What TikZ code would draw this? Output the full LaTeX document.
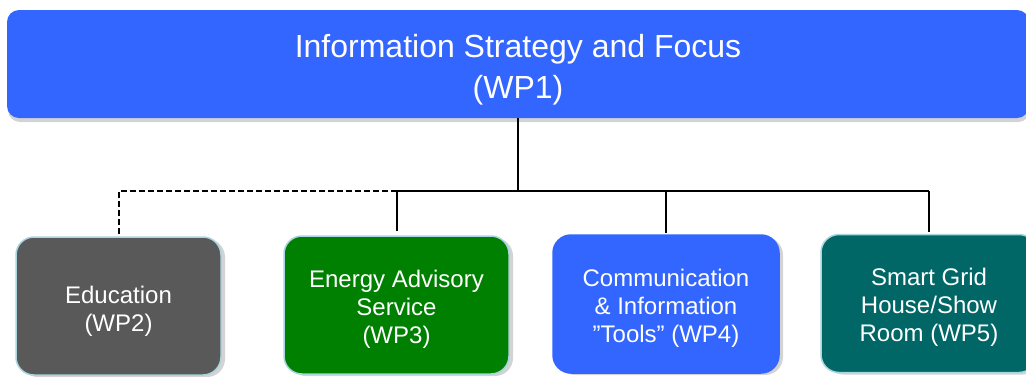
\documentclass[tikz,border=0pt]{standalone}
\usepackage{fontspec}
\setmainfont{Liberation Sans}
\usepackage{xcolor}
\usepackage{tikz}
\usetikzlibrary{shadows}
\definecolor{wpblue}{RGB}{51,102,255}
\definecolor{wpgray}{RGB}{89,89,89}
\definecolor{wpgreen}{RGB}{0,128,0}
\definecolor{wpteal}{RGB}{0,102,102}
\definecolor{wpedge}{RGB}{170,212,222}
\newcommand{\wptext}[2]{\raisebox{#1}[\height][\depth]{\begin{tabular}{@{}c@{}}#2\end{tabular}}}
\tikzstyle{topbox} = [rectangle, rounded corners=12pt, minimum width=1022pt, minimum height=108pt, text centered, fill=wpblue, text=white, font=\fontsize{32}{41}\selectfont, drop shadow={shadow xshift=1pt, shadow yshift=-4pt, opacity=0.35}]
\tikzstyle{wpbox} = [rectangle, rounded corners=18pt, minimum width=205pt, minimum height=138pt, text centered, draw=wpedge, line width=1.5pt, text=white, font=\fontsize{24}{28}\selectfont, drop shadow={shadow xshift=4pt, shadow yshift=-2pt, opacity=0.35}]
\tikzstyle{link} = [line width=2pt]
\tikzstyle{dashlink} = [line width=2pt, dash pattern=on 6pt off 3pt]

\begin{document}
\begin{tikzpicture}[x=1pt, y=-1pt]
			\useasboundingbox (0,0) rectangle (1026,376);
			\node (wp1) [topbox] at (518,64) {\wptext{-5.5pt}{Information Strategy and Focus\\(WP1)}};
			\node (wp2) [wpbox, fill=wpgray] at (118.5,306) {\wptext{-5.5pt}{Education\\(WP2)}};
			\node (wp3) [wpbox, fill=wpgreen, minimum width=225pt] at (396.5,305) {\wptext{-4.5pt}{Energy Advisory\\Service\\(WP3)}};
			\node (wp4) [wpbox, fill=wpblue, draw=wpblue, minimum width=226pt] at (666,304) {\wptext{-5pt}{Communication\\\& Information\\”Tools” (WP4)}};
			\node (wp5) [wpbox, fill=wpteal, minimum width=216pt] at (929,303.5) {\wptext{-4.5pt}{Smart Grid\\House/Show\\Room (WP5)}};
			\coordinate (bus) at (wp1.south |- 0,191);

			\draw [link] (wp1.south) -- (bus);
			\draw [link] (wp3.north |- bus) -- (wp5.north |- bus);
			\draw [link, shorten >=4pt] (wp3.north |- bus) -- (wp3.north);
			\draw [link, shorten >=1pt] (wp4.north |- bus) -- (wp4.north);
			\draw [link, shorten >=2pt] (wp5.north |- bus) -- (wp5.north);
			\draw [dashlink, shorten >=1pt] (wp3.north |- bus) -- (wp2.north |- bus) -- (wp2.north);
		\end{tikzpicture}
\end{document}
